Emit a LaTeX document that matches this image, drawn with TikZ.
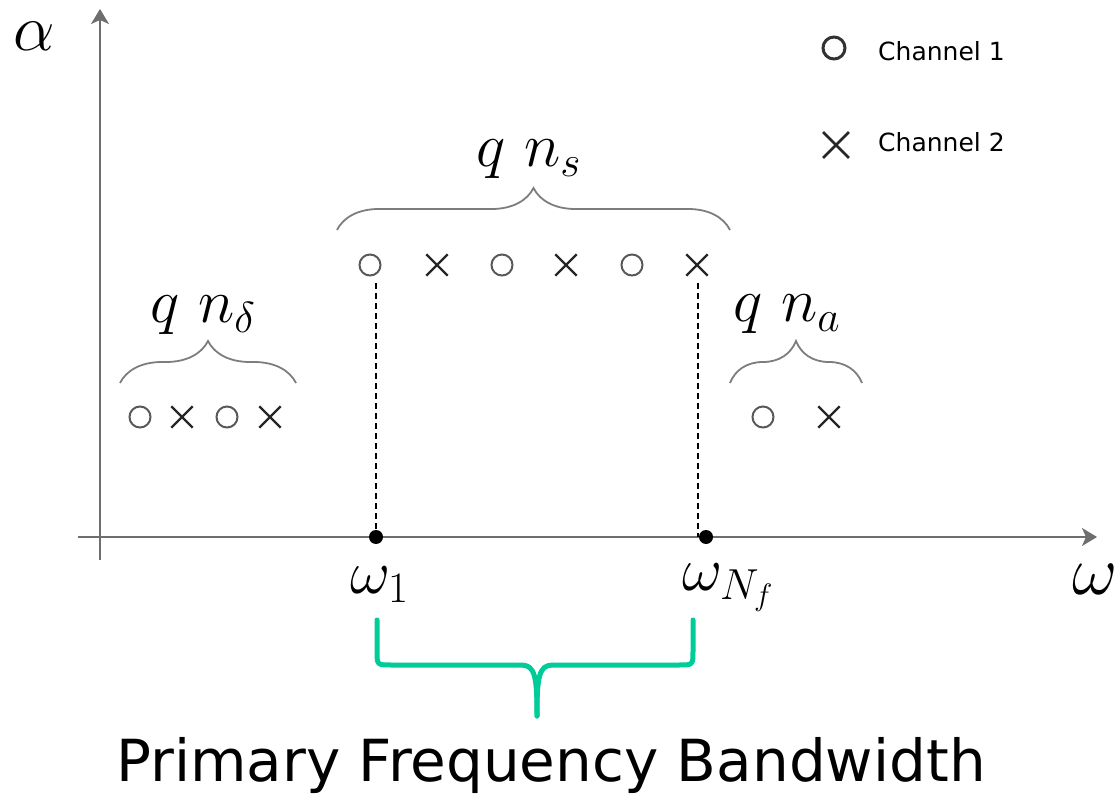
\RequirePackage{fix-cm}
\documentclass[tikz,border=0pt]{standalone}
\usepackage{fontspec}
\usepackage{tikz}
\usetikzlibrary{
	arrows.meta,
	decorations.pathreplacing,
	shapes.misc,
	positioning
}
\newfontfamily\legfont{DejaVu Sans}
\definecolor{AxisGray}{RGB}{110,110,110}
\definecolor{BraceGray}{RGB}{125,125,125}
\definecolor{BandGreen}{RGB}{0,204,153}

\begin{document}
\begin{tikzpicture}[x=1pt,y=-1pt,
		axis/.style={draw=AxisGray,line width=2pt,-{Stealth[length=15pt,width=18pt,inset=4pt]}},
		chone/.style={circle,draw=black!65,line width=2pt,minimum size=21pt,inner sep=0pt},
		chtwo/.style={cross out,draw=black!85,line width=2.4pt,minimum size=19pt,inner sep=0pt},
		grbrace/.style={decorate,decoration={brace,amplitude=42pt},draw=BraceGray,line width=1.8pt},
		gnbrace/.style={draw=BandGreen,line width=5pt,line cap=round,line join=round},
		mlabel/.style={inner sep=0pt,font=\fontsize{62}{70}\selectfont},
		legtext/.style={inner sep=0pt,font=\legfont\fontsize{25}{30}\selectfont},
		guide/.style={dashed,dash pattern=on 6pt off 4pt,line width=1.2pt}]
		\useasboundingbox (0,0) rectangle (1117,794);
		\coordinate (xs) at (78,537);
		\coordinate (xe) at (1097,537);
		\coordinate (ys) at (100,560);
		\coordinate (ye) at (100,9);
		\coordinate (w1) at (376,537);
		\coordinate (wN) at (706,537);
		
		% axes
		\draw[axis] (xs) -- (xe);
		\draw[axis] (ys) -- (ye);
		\node[mlabel,anchor=base west,font=\fontsize{66}{72}\selectfont] (alpha) at (13,51) {$\alpha$};
		\node[mlabel,anchor=base west,font=\fontsize{70}{78}\selectfont] (omega) at (1072,594) {$\omega$};
		
		% legend
		\node[chone,draw=black!80,line width=3pt,minimum size=22pt] (leg1) at (834,48) {};
		\node[legtext,anchor=base west] (leg1t) at (878,61) {Channel 1};
		\node[chtwo,minimum size=23pt,line width=2.8pt] (leg2) at (836,145) {};
		\node[legtext,anchor=base west] (leg2t) at (878,152) {Channel 2};
		
		% n_delta group
		\node[chone] (d1) at (140,417) {};
		\node[chtwo] (d2) at (182,417) {};
		\node[chone] (d3) at (227,417) {};
		\node[chtwo] (d4) at (270,417) {};
		\coordinate (dl) at (120,383);
		\coordinate (dr) at (296,383);
		\draw[grbrace] (dl) -- (dr);
		\node[mlabel,anchor=base west] (qnd) at (150,323) {$q\ n_\delta$};
		
		% n_s group
		\node[chone] (s1) at (370,265) {};
		\node[chtwo] (s2) at (437,265) {};
		\node[chone] (s3) at (502,265) {};
		\node[chtwo] (s4) at (566,265) {};
		\node[chone] (s5) at (632,265) {};
		\node[chtwo] (s6) at (697,265) {};
		\coordinate (sl) at (337,230);
		\coordinate (sr) at (730,230);
		\draw[grbrace] (sl) -- (sr);
		\node[mlabel,anchor=base west] (qns) at (476,167) {$q\ n_s$};
		
		% n_a group
		\node[chone] (a1) at (763,417) {};
		\node[chtwo] (a2) at (829,417) {};
		\coordinate (al) at (730,383);
		\coordinate (ar) at (862,383);
		\draw[grbrace] (al) -- (ar);
		\node[mlabel,anchor=base west] (qna) at (733,322) {$q\ n_a$};
		
		% band edges
		\coordinate (g1) at (376,283);
		\coordinate (g2) at (698,283);
		\draw[guide] (g1) -- (g1 |- w1);
		\draw[guide] (g2) -- (g2 |- wN);
		\fill (w1) circle (7pt);
		\fill (wN) circle (7pt);
		\node[mlabel,anchor=base west] (lw1) at (350,593) {$\omega_1$};
		\node[mlabel,anchor=base west] (lwN) at (682,590) {$\omega_{N_f}$};
		
		% primary band
		\coordinate (bl) at (377,620);
		\coordinate (br) at (693,620);
		\coordinate (btip) at (537,716);
		\draw[gnbrace] (bl) -- (377,651) .. controls (377,665) .. (391,665) -- (521,665)
			.. controls (535,665) and (537,676) .. (btip);
		\draw[gnbrace] (br) -- (693,651) .. controls (693,665) .. (679,665) -- (553,665)
			.. controls (539,665) and (537,676) .. (btip);
		\node[inner sep=0pt,anchor=base,font=\legfont\fontsize{58}{66}\selectfont] (band) at (551,781) {Primary Frequency Bandwidth};
	\end{tikzpicture}
\end{document}
